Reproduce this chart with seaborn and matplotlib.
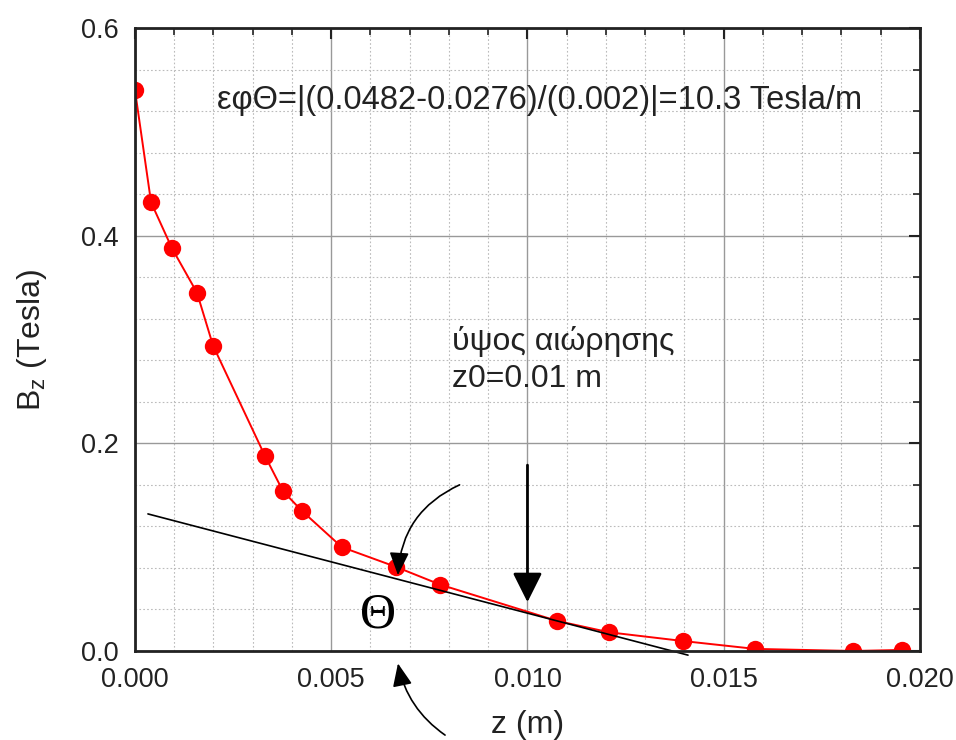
import matplotlib
matplotlib.use("Agg")
import matplotlib.pyplot as plt
import seaborn as sns
import pandas as pd
from matplotlib.ticker import MultipleLocator

# measured field along the axis
z_m = [0.0, 0.00041, 0.00094, 0.00158, 0.00199, 0.00331, 0.00377, 0.00425,
       0.00527, 0.00665, 0.00777, 0.01075, 0.01208, 0.01396, 0.0158, 0.0183, 0.01954]
bz_tesla = [0.540, 0.432, 0.388, 0.345, 0.294, 0.188, 0.154, 0.135,
            0.100, 0.081, 0.064, 0.029, 0.018, 0.0096, 0.002, 0.0, 0.001]

# tangent line at z0
tangent_z = [0.00033, 0.01409]
tangent_b = [0.132, -0.004]

slope_text = "εφΘ=|(0.0482-0.0276)/(0.002)|=10.3 Tesla/m"
height_lines = ["ύψος αιώρησης", "z0=0.01 m"]
z0 = 0.010

df = pd.DataFrame({"z": z_m, "Bz": bz_tesla})

sns.set_style("white")
plt.rcParams["font.family"] = ["Liberation Sans", "DejaVu Sans"]
plt.rcParams["mathtext.fontset"] = "custom"
plt.rcParams["mathtext.rm"] = "Liberation Sans"
plt.rcParams["mathtext.it"] = "Liberation Sans"

TXT = "#222222"

fig = plt.figure(figsize=(9.56, 7.4), dpi=100)
ax = fig.add_axes([0.1412, 0.1203, 0.8211, 0.8419])

sns.lineplot(data=df, x="z", y="Bz", sort=False, color="red", lw=1.4,
             marker="o", markersize=12.5, markeredgewidth=0, ax=ax)
ax.plot(tangent_z, tangent_b, color="black", lw=1.2, clip_on=False)

ax.set_xlim(0, 0.020)
ax.set_ylim(0, 0.6)
ax.xaxis.set_major_locator(MultipleLocator(0.005))
ax.xaxis.set_minor_locator(MultipleLocator(0.001))
ax.yaxis.set_major_locator(MultipleLocator(0.2))
ax.yaxis.set_minor_locator(MultipleLocator(0.04))
ax.set_xticklabels([f"{v:.3f}" for v in ax.get_xticks()])
ax.set_yticklabels([f"{v:.1f}" for v in ax.get_yticks()])

ax.grid(which="major", color="#999999", lw=1.0, ls="-")
ax.grid(which="minor", color="#bbbbbb", lw=0.8, ls=(0, (1.5, 2)))
ax.set_axisbelow(True)

for s in ax.spines.values():
    s.set_color("#222222")
    s.set_linewidth(2)
ax.tick_params(which="both", direction="in", top=True, right=True,
               color="#222222", labelcolor=TXT, labelsize=19.5, pad=11.5)
ax.tick_params(which="major", length=8, width=1.5)
ax.tick_params(which="minor", length=5, width=1.2)

ax.set_xlabel("z (m)", fontsize=23, color=TXT, va="center")
ax.set_ylabel("B$_z$ (Tesla)", fontsize=23, color=TXT, va="center")
ax.xaxis.set_label_coords(0.5, -0.119)
ax.yaxis.set_label_coords(-0.131, 0.5)

ax.text(0.00209, 0.522, slope_text, fontsize=23.5, color=TXT, va="baseline")
ax.text(0.00808, 0.290, height_lines[0], fontsize=23, color=TXT, va="baseline")
ax.text(0.00808, 0.254, height_lines[1], fontsize=23, color=TXT, va="baseline")
ax.text(0.00619, 0.0347, "Θ", fontsize=36, color="black", ha="center", va="center",
        family=["Liberation Serif", "DejaVu Serif"])

# vertical arrow at z0
ax.annotate("", xy=(z0, 0.047), xytext=(z0, 0.179),
            arrowprops=dict(arrowstyle="-|>,head_width=0.45,head_length=0.9",
                            color="black", lw=2, mutation_scale=20,
                            shrinkA=0, shrinkB=0))
# curved arrow to the tangent point
ax.annotate("", xy=(0.00670, 0.073), xytext=(0.00827, 0.160),
            arrowprops=dict(arrowstyle="-|>,head_width=0.3,head_length=0.7",
                            color="black", lw=1.2, mutation_scale=20,
                            shrinkA=0, shrinkB=0,
                            connectionstyle="arc3,rad=0.3"))
# curved arrow from below, pointing at the angle
ax.annotate("", xy=(0.00670, -0.012), xytext=(0.00790, -0.081),
            annotation_clip=False,
            arrowprops=dict(arrowstyle="-|>,head_width=0.3,head_length=0.7",
                            color="black", lw=1.2, mutation_scale=20,
                            shrinkA=0, shrinkB=0,
                            connectionstyle="arc3,rad=-0.2"))

fig.savefig("out.png", dpi=100)
